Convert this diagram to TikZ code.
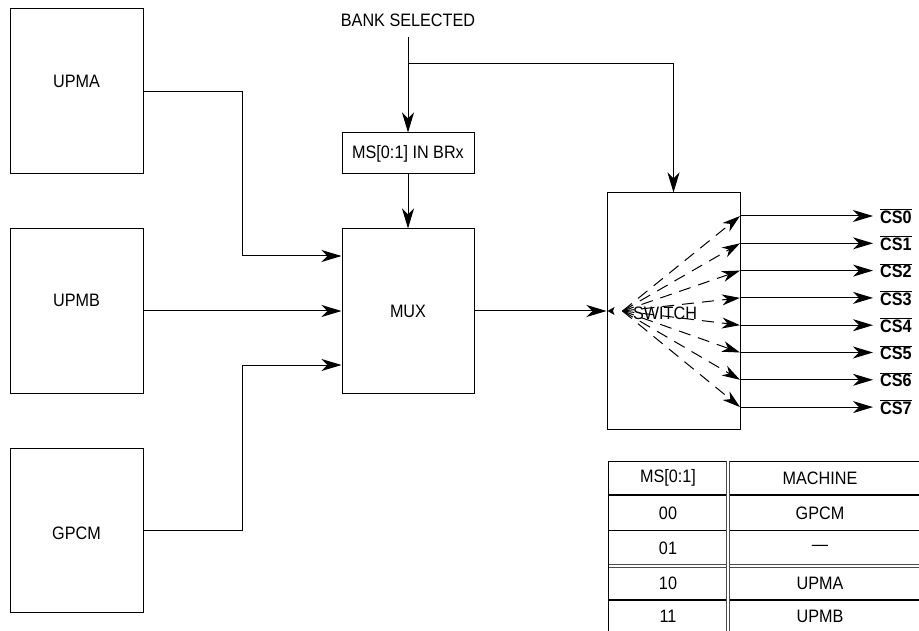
\documentclass[tikz,border=0pt]{standalone}
\usepackage{fontspec}
\setmainfont{Liberation Sans}[FakeStretch=0.9]
\usetikzlibrary{arrows.meta,calc}
\begin{document}
\begin{tikzpicture}[x=1pt,y=-1pt,
  every node/.style={font=\fontsize{18}{20}\selectfont, inner sep=0pt},
  blk/.style={draw, line width=1pt, minimum width=133pt},
  arr/.style={line width=1pt, -{Stealth[length=20pt,width=12pt,inset=6pt]}},
  dsh/.style={line width=1pt, dash pattern=on 12pt off 8pt, -{Stealth[length=18pt,width=11pt,inset=5.5pt]}},
  wire/.style={line width=1pt},
  thickrule/.style={line width=2pt},
  dblrule/.style={line width=0.8pt, double distance=1.6pt, draw=black!70}]
\useasboundingbox (0,0) rectangle (919,631);

% left source blocks
\node[blk, minimum height=165pt] (upma) at (76.5,91.5) {};
\node (upmaT) at (76.5,81) {UPMA};
\node[blk, minimum height=164pt] (upmb) at (76.5,311) {};
\node (upmbT) at (76.5,300) {UPMB};
\node[blk, minimum height=164pt] (gpcm) at (76.5,530) {};
\node (gpcmT) at (76.5,533) {GPCM};

% mux, ms, bank selected
\node[blk, minimum width=132pt, minimum height=164pt] (mux) at (408,311) {MUX};
\node[blk, minimum width=132pt, minimum height=41pt] (ms) at (408,153.5) {MS[0:1] IN BRx};
\node (bank) at (408,20) {BANK SELECTED};
\coordinate (bankS) at (408,37);
\coordinate (br) at (408,64);

% switch
\node[blk, minimum height=236pt] (switch) at (673.5,311) {};
\node (swT) at (665,313) {SWITCH};

% connectors into mux
\draw[arr] (upma.east) -- (242,91.5) |- ($(mux.west)+(0,-55)$);
\draw[arr] (upmb.east) -- (mux.west);
\draw[arr] (gpcm.east) -- (242,530) |- ($(mux.west)+(0,54)$);

% bank selected
\draw[arr] (bankS) -- (ms.north);
\draw[arr] (br) -| (switch.north);
\draw[arr] (ms.south) -- (mux.north);

% mux to switch
\draw[arr] (mux.east) -- (switch.west);
\fill ($(switch.west)+(1,0)$) -- ++(7,-4) -- ++(-1.5,4) -- ++(1.5,4) -- cycle;

% outputs
\foreach \i in {0,...,7}{
  \coordinate (o\i) at (740,{216+\i*27.3});
  \node[anchor=west, font=\fontsize{18}{20}\selectfont\bfseries] (cs\i) at (880,{216+\i*27.3}) {$\overline{\hbox{CS\i}}$};
  \draw[arr] (o\i) -- ($(cs\i.west)+(-7,0)$);
  \draw[dsh] ($(switch.west)+(16,0)$) -- (o\i);
}

% table
\draw[wire] (608,461) -- (919,461);
\draw[thickrule] (608,495) -- (919,495);
\draw[wire] (608,530) -- (919,530);
\draw[dblrule] (608,566) -- (919,566);
\draw[thickrule] (608,600) -- (919,600);
\draw[wire] (608,461) -- (608,631);
\draw[dblrule] (728,461) -- (728,631);

\node (h1) at (668,478) {MS[0:1]};
\node (h2) at (820,478) {MACHINE};
\node (r1a) at (668,513) {00};
\node (r1b) at (820,513) {GPCM};
\node (r2a) at (668,548) {01};
\node (r2b) at (820,548) {—};
\node (r3a) at (668,583) {10};
\node (r3b) at (820,583) {UPMA};
\node (r4a) at (668,616) {11};
\node (r4b) at (820,616) {UPMB};
\end{tikzpicture}
\end{document}
